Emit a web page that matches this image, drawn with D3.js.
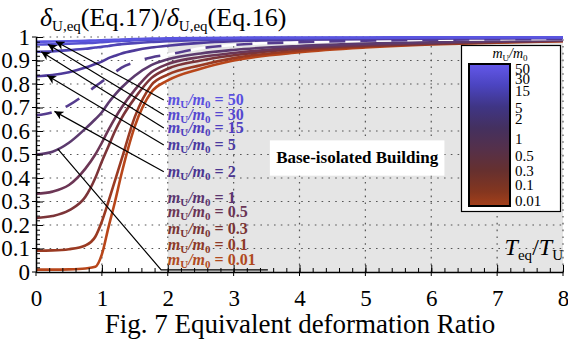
<!DOCTYPE html>
<html lang="en">
<head>
<meta charset="UTF-8">
<title>Equivalent deformation Ratio</title>
<script src="https://d3js.org/d3.v7.min.js"></script>
<style>
  body { margin: 0; background: #fff; }
  svg { display: block; font-family: 'Liberation Serif', 'Times New Roman', serif; }
</style>
</head>
<body>
<svg id="chart" width="568" height="343"></svg>
<script>
const xs    = [0, 0.25, 0.5, 0.75, 0.9, 1.0, 1.1, 1.2, 1.3, 1.5, 1.75, 2, 2.5, 3, 4, 5, 6, 7, 8];
const m50   = [.980, .981, .982, .984, .985, .986, .987, .988, .989, .991, .993, .994, .996, .997, .998, .998, .999, .999, .999];
const m30   = [.968, .969, .971, .974, .976, .978, .980, .982, .983, .986, .989, .991, .993, .995, .996, .997, .998, .998, .998];
const m15   = [.937, .939, .944, .950, .955, .958, .962, .966, .969, .974, .979, .982, .987, .990, .993, .995, .996, .997, .997];
const m5    = [.833, .838, .850, .870, .885, .895, .910, .920, .930, .943, .955, .963, .975, .982, .988, .991, .993, .994, .995];
const m2    = [.667, .680, .710, .757, .790, .810, .830, .850, .870, .893, .913, .925, .952, .966, .978, .984, .988, .990, .992];
const m1    = [.500, .512, .550, .610, .650, .680, .720, .755, .785, .835, .880, .905, .930, .945, .962, .972, .978, .983, .987];
const m05   = [.333, .342, .370, .440, .500, .550, .605, .655, .700, .775, .850, .885, .915, .932, .955, .967, .975, .980, .985];
const m03   = [.230, .238, .262, .320, .400, .470, .535, .600, .655, .740, .825, .865, .900, .922, .950, .963, .972, .979, .984];
const m01   = [.091, .092, .097, .113, .150, .215, .300, .390, .480, .660, .795, .840, .880, .910, .942, .959, .970, .978, .983];
const m001  = [.010, .010, .011, .015, .022, .075, .190, .300, .420, .620, .765, .815, .865, .900, .935, .955, .968, .976, .982];

const ratioNames = ["50", "30", "15", "5", "2", "1", "0.5", "0.3", "0.1", "0.01"];
const seriesVals = [m50, m30, m15, m5, m2, m1, m05, m03, m01, m001];
const lineColors = ["#5a55e0", "#5550d0", "#5045b5", "#4e3a9a", "#553c8e", "#5c3a6e", "#6c3655", "#7c3438", "#9a3a22", "#b8461a"];
const textColors = ["#5a50e0", "#5548d0", "#5040c0", "#4a3aa0", "#4a3590", "#5a3570", "#6a3555", "#7a3535", "#8e3a28", "#b04a1e"];

// annotation: label heights (data units) and where the leaders touch the curves
const labelY  = [0.732, 0.668, 0.613, 0.54, 0.427, 0.315, 0.257, 0.183, 0.115, 0.051];
const arrowTipX = [0.30, 0.18, 0.08, 0.17, 0.28];

const xTickLabels = ["0", "1", "2", "3", "4", "5", "6", "7", "8"];
const yTickLabels = ["0", "0.1", "0.2", "0.3", "0.4", "0.5", "0.6", "0.7", "0.8", "0.9", "1"];
const barTickY = [68.5, 79, 90.5, 108, 119, 139, 156, 171, 185, 201];

const svg = d3.select("#chart");
const x = d3.scaleLinear().domain([0, 8]).range([36, 563]);
const y = d3.scaleLinear().domain([0, 1]).range([272, 37]);

// shaded band for T_eq/T_U >= 2
svg.append("rect")
    .attr("x", x(2)).attr("y", y(1))
    .attr("width", x(8) - x(2)).attr("height", y(0) - y(1))
    .attr("fill", "#e5e5e5");

// dotted grid
const grid = svg.append("g").attr("stroke", "#555").attr("stroke-width", 1.2).attr("stroke-dasharray", "1.6,5.2");
yTickLabels.slice(1).forEach(t => {
    grid.append("line").attr("x1", x(0)).attr("x2", x(8)).attr("y1", y(+t)).attr("y2", y(+t));
});
xTickLabels.slice(1).forEach(t => {
    grid.append("line").attr("x1", x(+t)).attr("x2", x(+t)).attr("y1", y(0)).attr("y2", y(1));
});

// white label box
svg.append("rect")
    .attr("x", x(3.55)).attr("y", y(0.56))
    .attr("width", x(6.2) - x(3.55)).attr("height", y(0.41) - y(0.56))
    .attr("fill", "#fff");
svg.append("text")
    .attr("x", (x(3.55) + x(6.2)) / 2).attr("y", y(0.485) + 5)
    .attr("text-anchor", "middle").attr("font-size", 17).attr("font-weight", "bold")
    .text("Base-isolated Building");

// curves (low ratios first so the blue ones sit on top)
const line = d3.line().x(d => x(d[0])).y(d => y(d[1])).curve(d3.curveMonotoneX);
for (let i = seriesVals.length - 1; i >= 0; i--) {
    const pts = xs.map((v, j) => [v, seriesVals[i][j]]);
    if (ratioNames[i] === "2") {
        svg.append("path").datum(pts).attr("d", line)
            .attr("fill", "none").attr("stroke", "#fff").attr("stroke-width", 2.6);
        svg.append("path").datum(pts).attr("d", line)
            .attr("fill", "none").attr("stroke", lineColors[i]).attr("stroke-width", 2.6)
            .attr("stroke-dasharray", "16,15");
    } else {
        svg.append("path").datum(pts).attr("d", line)
            .attr("fill", "none").attr("stroke", lineColors[i]).attr("stroke-width", 2.6);
    }
}

// leader lines + arrows
svg.append("defs").append("marker")
    .attr("id", "arr").attr("viewBox", "0 0 10 10").attr("refX", 10).attr("refY", 5)
    .attr("markerWidth", 9).attr("markerHeight", 9).attr("markerUnits", "userSpaceOnUse")
    .attr("orient", "auto")
    .append("path").attr("d", "M0,0 L10,5 L0,10 L3,5 Z").attr("fill", "#000");

function valueAt(arr, xv) {
    return d3.scaleLinear().domain(xs).range(arr)(xv);
}
const tailX = x(1.94);
arrowTipX.forEach((tx, i) => {
    svg.append("line")
        .attr("x1", tailX).attr("y1", y(labelY[i]))
        .attr("x2", x(tx)).attr("y2", y(valueAt(seriesVals[i], tx)))
        .attr("stroke", "#000").attr("stroke-width", 1.2)
        .attr("marker-end", "url(#arr)");
});
// the bottom leader runs from the m=1 curve under the last label
svg.append("polyline")
    .attr("points", [[x(0.33), y(valueAt(m1, 0.33))], [x(1.9), y(0.009)], [x(3.52), y(0.009)]].join(" "))
    .attr("fill", "none").attr("stroke", "#000").attr("stroke-width", 1.2);

// curve labels
ratioNames.forEach((r, i) => {
    const t = svg.append("text")
        .attr("x", x(2.0)).attr("y", y(labelY[i]) + 5)
        .attr("font-size", 16).attr("font-weight", "bold").attr("fill", textColors[i]);
    t.append("tspan").attr("font-style", "italic").text("m");
    t.append("tspan").attr("font-size", 11).attr("dy", 3).text("U");
    t.append("tspan").attr("dy", -3).attr("font-style", "italic").text("/m");
    t.append("tspan").attr("font-size", 11).attr("dy", 3).text("0");
    t.append("tspan").attr("dy", -3).text(" = " + r);
});

// axes
svg.append("g").attr("transform", `translate(0,${y(0)})`)
    .call(d3.axisBottom(x).tickValues(xTickLabels.map(Number)).tickFormat((d, i) => xTickLabels[i])
        .tickSizeInner(-7).tickSizeOuter(0).tickPadding(18));
svg.append("g").attr("transform", `translate(0,${y(0)})`)
    .call(d3.axisBottom(x).tickValues(d3.range(0, 8.01, 0.2)).tickFormat("").tickSizeInner(-4).tickSizeOuter(0))
    .select(".domain").remove();
svg.append("g").attr("transform", `translate(${x(0)},0)`)
    .call(d3.axisLeft(y).tickValues(yTickLabels.map(Number)).tickFormat((d, i) => yTickLabels[i])
        .tickSizeInner(-7).tickSizeOuter(0).tickPadding(6));
svg.append("g").attr("transform", `translate(${x(0)},0)`)
    .call(d3.axisLeft(y).tickValues(d3.range(0, 1.001, 0.02)).tickFormat("").tickSizeInner(-4).tickSizeOuter(0))
    .select(".domain").remove();
svg.selectAll(".tick text").attr("font-size", 23).attr("font-family", "'Liberation Serif', serif").attr("fill", "#000");
svg.selectAll(".domain").attr("stroke-width", 1.5);
// small outward stubs on the major ticks
xTickLabels.forEach(t => svg.append("line").attr("x1", x(+t)).attr("x2", x(+t)).attr("y1", y(0)).attr("y2", y(0) + 4).attr("stroke", "#000"));
yTickLabels.forEach(t => svg.append("line").attr("x1", x(0) - 4).attr("x2", x(0)).attr("y1", y(+t)).attr("y2", y(+t)).attr("stroke", "#000"));

// axis title inside plot, flush with the right edge
const xt = svg.append("text").attr("x", 563).attr("y", 255).attr("text-anchor", "end").attr("font-size", 24);
xt.append("tspan").attr("font-style", "italic").text("T");
xt.append("tspan").attr("font-size", 15).attr("dy", 5).text("eq");
xt.append("tspan").attr("dy", -5).text("/");
xt.append("tspan").attr("font-style", "italic").text("T");
xt.append("tspan").attr("font-size", 15).attr("dy", 5).text("U");

// y title at the top
const yt = svg.append("text").attr("x", 40).attr("y", 26).attr("font-size", 26);
yt.append("tspan").attr("font-style", "italic").text("δ");
yt.append("tspan").attr("font-size", 15).attr("dy", 5).text("U,eq");
yt.append("tspan").attr("dy", -5).text("(Eq.17)/");
yt.append("tspan").attr("font-style", "italic").text("δ");
yt.append("tspan").attr("font-size", 15).attr("dy", 5).text("U,eq");
yt.append("tspan").attr("dy", -5).text("(Eq.16)");

// caption
svg.append("text").attr("x", 300).attr("y", 333).attr("text-anchor", "middle")
    .attr("font-size", 27).text("Fig. 7 Equivalent deformation Ratio");

// colour legend
const grad = svg.select("defs").append("linearGradient").attr("id", "cbar")
    .attr("x1", 0).attr("y1", 0).attr("x2", 0).attr("y2", 1);
[["0", "#6358ea"], ["0.15", "#4b44c0"], ["0.3", "#3f3585"], ["0.45", "#44305f"],
 ["0.6", "#55304a"], ["0.75", "#66302f"], ["0.9", "#84361f"], ["1", "#a5401a"]]
    .forEach(([o, c]) => grad.append("stop").attr("offset", o).attr("stop-color", c));
svg.append("rect").attr("x", 461.5).attr("y", 45.5).attr("width", 99).attr("height", 166)
    .attr("fill", "#fff").attr("stroke", "#000").attr("stroke-width", 1.2);
svg.append("rect").attr("x", 469).attr("y", 64).attr("width", 41).attr("height", 142)
    .attr("fill", "url(#cbar)").attr("stroke", "#000").attr("stroke-width", 2);
const lt = svg.append("text").attr("x", 510).attr("y", 58).attr("text-anchor", "middle").attr("font-size", 14);
lt.append("tspan").attr("font-style", "italic").text("m");
lt.append("tspan").attr("font-size", 9).attr("dy", 3).text("U");
lt.append("tspan").attr("dy", -3).attr("font-style", "italic").text("/m");
lt.append("tspan").attr("font-size", 9).attr("dy", 3).text("0");
ratioNames.forEach((r, i) => {
    svg.append("text").attr("x", 515).attr("y", barTickY[i] + 5).attr("font-size", 15).text(r);
});
</script>
</body>
</html>
